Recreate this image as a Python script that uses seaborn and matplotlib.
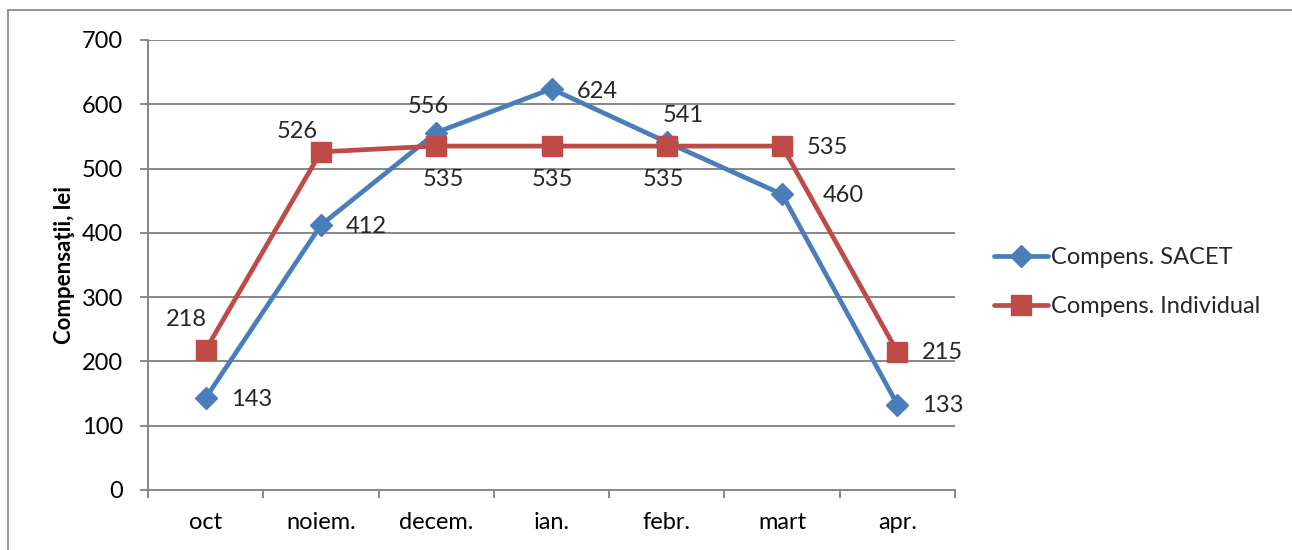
import numpy as np
import pandas as pd
import matplotlib
matplotlib.use("Agg")
import matplotlib.pyplot as plt
from matplotlib.lines import Line2D
import seaborn as sns

months = ["oct", "noiem.", "decem.", "ian.", "febr.", "mart", "apr."]
sacet = [143, 412, 556, 624, 541, 460, 133]
individual = [218, 526, 535, 535, 535, 535, 215]
series_names = ["Compens. SACET", "Compens. Individual"]
ylabel = "Compensaţii, lei"

df = pd.DataFrame({
    "month": months * 2,
    "value": sacet + individual,
    "series": [series_names[0]] * len(months) + [series_names[1]] * len(months),
})

sns.set_theme(style="white")
plt.rcParams["font.family"] = ["Lato", "DejaVu Sans"]

FS = 17
W, H = 1292, 550
fig = plt.figure(figsize=(W / 100, H / 100), dpi=100)
ax = fig.add_axes([148 / W, 1 - 490 / H, (955 - 148) / W, (490 - 40) / H])

blue = "#4A7EBB"
red = "#BE4B48"
palette = {series_names[0]: blue, series_names[1]: red}
markers = {series_names[0]: "D", series_names[1]: "s"}

sns.lineplot(data=df, x="month", y="value", hue="series", style="series",
             markers=markers, dashes=False, palette=palette, ax=ax,
             linewidth=3.4, markersize=12, sort=False)


def style_line(ln):
    c = ln.get_color()
    ln.set_markeredgecolor(c)
    ln.set_markerfacecolor(c)
    ln.set_markeredgewidth(1.0)
    ln.set_linewidth(3.4)
    if ln.get_marker() == "s":
        ln.set_markersize(15)
    elif ln.get_marker() == "D":
        ln.set_markersize(11.5)


for ln in ax.get_lines():
    style_line(ln)

handles, labels = ax.get_legend_handles_labels()
ax.get_legend().remove()
for h in handles:
    style_line(h)
leg = fig.legend(handles, labels, loc="center left",
                 bbox_to_anchor=(994 / W, 1 - 282 / H), frameon=False,
                 fontsize=FS, handlelength=2.3, handletextpad=0.1,
                 labelspacing=1.2, borderaxespad=0, borderpad=0)

ax.set_ylim(0, 700)
ax.set_yticks(range(0, 701, 100))
ax.set_xlim(-0.5, 6.5)
ax.set_xticks(np.arange(-0.5, 7, 1))
ax.set_xticklabels([])
ax.set_xticks(range(7), minor=True)
ax.set_xticklabels(months, minor=True)

grid_c = "#878787"
ax.grid(axis="y", color=grid_c, linewidth=1.4)
ax.grid(axis="x", visible=False)
ax.set_axisbelow(True)
for s in ["top", "right"]:
    ax.spines[s].set_visible(False)
for s in ["left", "bottom"]:
    ax.spines[s].set_color(grid_c)
    ax.spines[s].set_linewidth(1.4)

ax.tick_params(axis="x", which="major", length=6, width=1.4, color=grid_c, direction="out", bottom=True)
ax.tick_params(axis="x", which="minor", length=0, pad=16, labelsize=FS, labelcolor="black")
ax.tick_params(axis="y", length=6, width=1.4, color=grid_c, direction="out", left=True,
               pad=12, labelsize=FS, labelcolor="black")

ax.set_xlabel("")
ax.set_ylabel(ylabel, fontsize=16, fontweight="bold", color="black", labelpad=5)

# data labels (offsets in pixels)
for i, v in enumerate(sacet):
    if i == 2:
        ax.annotate(str(v), (i, v), xytext=(-8, 26), textcoords="offset pixels",
                    ha="center", va="center", fontsize=FS)
    elif i == 4:
        ax.annotate(str(v), (i, v), xytext=(16, 27), textcoords="offset pixels",
                    ha="center", va="center", fontsize=FS)
    else:
        dx = 41 if i == 5 else 25
        dy = -3 if i == 3 else -1
        ax.annotate(str(v), (i, v), xytext=(dx, dy), textcoords="offset pixels",
                    ha="left", va="center", fontsize=FS)

for i, v in enumerate(individual):
    if i == 0:
        ax.annotate(str(v), (i, v), xytext=(-19, 30), textcoords="offset pixels",
                    ha="center", va="center", fontsize=FS)
    elif i == 1:
        ax.annotate(str(v), (i, v), xytext=(-24, 20), textcoords="offset pixels",
                    ha="center", va="center", fontsize=FS)
    elif i in (2, 3, 4):
        dx = {2: 7, 3: 1, 4: -3}[i]
        ax.annotate(str(v), (i, v), xytext=(dx, -33), textcoords="offset pixels",
                    ha="center", va="center", fontsize=FS)
    else:
        ax.annotate(str(v), (i, v), xytext=(25, -1), textcoords="offset pixels",
                    ha="left", va="center", fontsize=FS)

# outer chart border (left and top edges visible)
fig.add_artist(Line2D([8 / W, 8 / W], [0, 1 - 10 / H], transform=fig.transFigure,
                      color="#8c8c8c", linewidth=1.3))
fig.add_artist(Line2D([8 / W, 1], [1 - 10 / H, 1 - 10 / H], transform=fig.transFigure,
                      color="#8c8c8c", linewidth=1.3))

fig.savefig("out.png", dpi=100)
